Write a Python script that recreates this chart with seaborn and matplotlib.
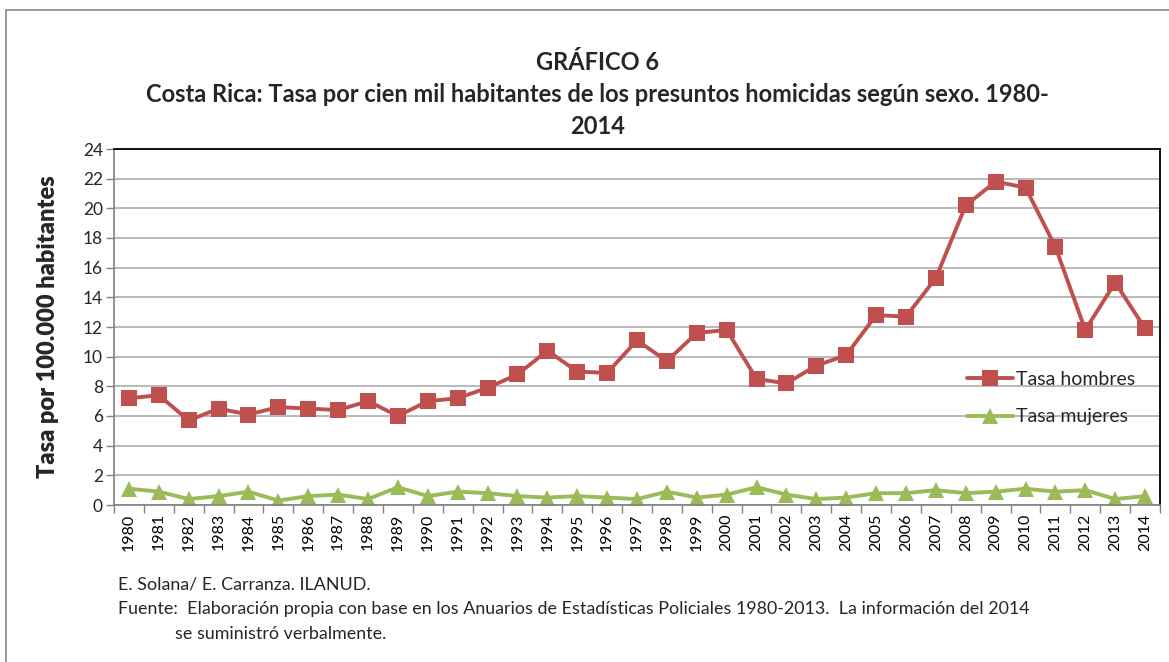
import numpy as np
import pandas as pd
import seaborn as sns
import matplotlib.pyplot as plt
from matplotlib.lines import Line2D
from matplotlib.ticker import FixedLocator, NullFormatter

years = list(range(1980, 2015))
tasa_hombres = [7.2, 7.4, 5.7, 6.5, 6.1, 6.6, 6.5, 6.4, 7.0, 6.0,
                7.0, 7.2, 7.9, 8.8, 10.4, 9.0, 8.9, 11.1, 9.7, 11.6,
                11.8, 8.5, 8.2, 9.4, 10.1, 12.8, 12.7, 15.3, 20.2, 21.8,
                21.4, 17.4, 11.8, 15.0, 11.9]
tasa_mujeres = [1.1, 0.9, 0.4, 0.6, 0.9, 0.3, 0.6, 0.7, 0.4, 1.2,
                0.6, 0.9, 0.8, 0.6, 0.5, 0.6, 0.5, 0.4, 0.9, 0.5,
                0.7, 1.2, 0.7, 0.4, 0.5, 0.8, 0.8, 1.0, 0.8, 0.9,
                1.1, 0.9, 1.0, 0.4, 0.6]
y_ticks = list(range(0, 25, 2))

df = pd.DataFrame({"year": years, "Tasa hombres": tasa_hombres, "Tasa mujeres": tasa_mujeres})

sns.set_style("white")
plt.rcParams["font.family"] = ["Lato", "DejaVu Sans"]

fig = plt.figure(figsize=(11.69, 6.62), dpi=100)
ax = fig.add_axes([114 / 1169, 1 - 505 / 662, (1160 - 114) / 1169, (505 - 149) / 662])

red = "#C0504D"
green = "#9BBB59"

sns.lineplot(data=df, x="year", y="Tasa hombres", ax=ax, color=red, lw=2.8,
             marker="s", markersize=11, markeredgewidth=0, label="Tasa hombres")
sns.lineplot(data=df, x="year", y="Tasa mujeres", ax=ax, color=green, lw=2.8,
             marker="^", markersize=12, markeredgewidth=0, label="Tasa mujeres")

ax.set_xlim(years[0] - 0.5, years[-1] + 0.5)
ax.set_ylim(0, 24)
ax.set_yticks(y_ticks)
ax.yaxis.grid(True, color="#a6a6a6", lw=1.1)
ax.set_axisbelow(True)

ax.set_xticks(years)
ax.set_xticklabels([str(y) for y in years], rotation=90, fontsize=11.5)
ax.xaxis.set_minor_locator(FixedLocator(np.arange(years[0] - 0.5, years[-1] + 1, 1)))
ax.xaxis.set_minor_formatter(NullFormatter())
ax.tick_params(axis="x", which="major", length=0, pad=6, colors="black")
ax.tick_params(axis="x", which="minor", length=6, width=1, color="#808080", direction="out", bottom=True)
ax.tick_params(axis="y", length=6, width=1, color="#808080", direction="out", left=True, labelsize=12.5, pad=2)

for side in ["left", "bottom"]:
    ax.spines[side].set_color("#808080")
    ax.spines[side].set_linewidth(1.2)
for side in ["top", "right"]:
    ax.spines[side].set_color("black")
    ax.spines[side].set_linewidth(1.3)
ax.set_xlabel("")
ax.set_ylabel("")

ax.legend(loc="center left", bbox_to_anchor=(0.8155, 0.30), frameon=False, fontsize=14,
          handlelength=2.35, labelspacing=1.05, handletextpad=0.15, borderaxespad=0,
          borderpad=0)

title_kw = dict(ha="center", va="center", fontsize=17, fontweight="bold")
fig.text(0.511, 1 - 62 / 662, "GRÁFICO 6", **title_kw)
fig.text(0.511, 1 - 95 / 662,
         "Costa Rica: Tasa por cien mil habitantes de los presuntos homicidas según sexo. 1980-",
         **title_kw)
fig.text(0.511, 1 - 127 / 662, "2014", **title_kw)

fig.text(48 / 1169, 1 - 327 / 662, "Tasa por 100.000 habitantes", rotation=90,
         ha="center", va="center", fontsize=17, fontweight="heavy")

foot_kw = dict(ha="left", va="center", fontsize=12.9)
fig.text(118 / 1169, 1 - 584 / 662, "E. Solana/ E. Carranza. ILANUD.", **foot_kw)
fig.text(118 / 1169, 1 - 609 / 662,
         "Fuente:  Elaboración propia con base en los Anuarios de Estadísticas Policiales 1980-2013.  La información del 2014",
         **foot_kw)
fig.text(175 / 1169, 1 - 634 / 662, "se suministró verbalmente.", **foot_kw)

# outer chart frame (left and top edges visible)
fig.add_artist(Line2D([6 / 1169, 6 / 1169], [0, 1 - 10 / 662], color="#888888", lw=1.2))
fig.add_artist(Line2D([6 / 1169, 1], [1 - 10 / 662, 1 - 10 / 662], color="#888888", lw=1.2))

fig.savefig("out.png", dpi=100)
